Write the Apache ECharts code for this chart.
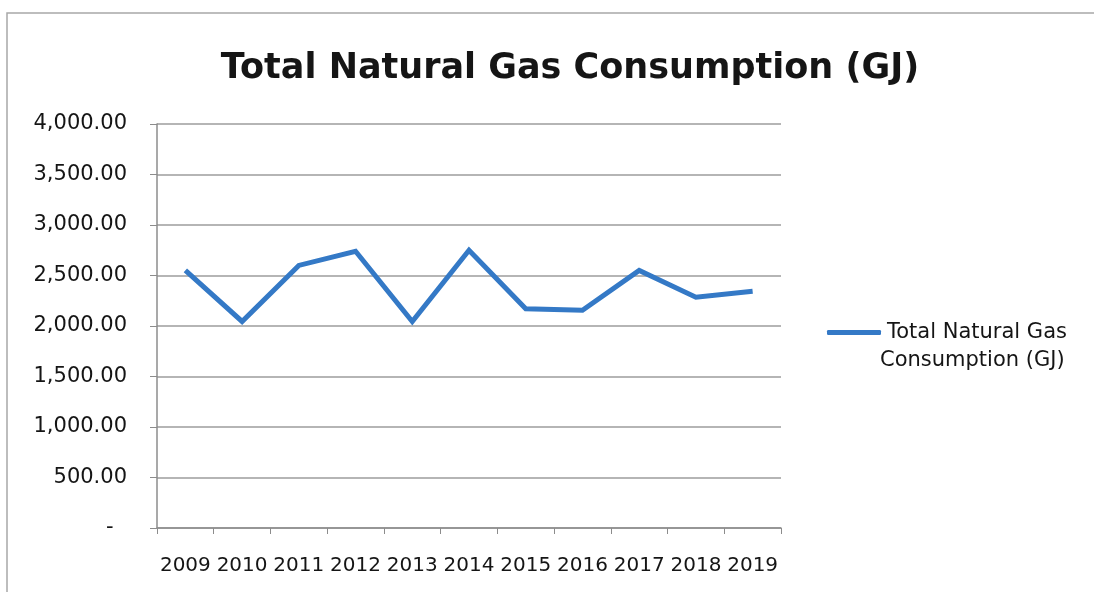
<!DOCTYPE html>
<html>
<head>
<meta charset="utf-8">
<script src="https://cdn.jsdelivr.net/npm/echarts@6/dist/echarts.min.js"></script>
<style>
  html, body { margin: 0; padding: 0; background: #fff; }
  #chart { width: 1094px; height: 592px; }
</style>
</head>
<body>
<div id="chart"></div>
<script>
// Annual totals, GJ
const years = ['2009', '2010', '2011', '2012', '2013', '2014', '2015', '2016', '2017', '2018', '2019'];
const gasGJ = [2550, 2045, 2600, 2740, 2045, 2750, 2170, 2155, 2550, 2285, 2345];
const seriesName = 'Total Natural Gas Consumption (GJ)';
const legendLines = ['Total Natural Gas', 'Consumption (GJ)'];
const yTicks = { min: 0, max: 4000, step: 500 };

const font = '"DejaVu Sans", "Open Sans", sans-serif';
const ink = '#151515';
const chart = echarts.init(document.getElementById('chart'));

// accounting-style number: zero shown as a dash padded off the right edge
const fmtGJ = v => v === 0
  ? '-  '
  : v.toLocaleString('en-US', { minimumFractionDigits: 2, maximumFractionDigits: 2 });

chart.setOption({
  backgroundColor: '#fff',
  animation: false,
  title: {
    text: seriesName,
    left: 565,
    textAlign: 'center',
    top: 46,
    textStyle: { fontFamily: font, fontSize: 35, fontWeight: 'bold', color: ink }
  },
  legend: {
    left: 822,
    top: 317,
    itemWidth: 54,
    itemHeight: 5,
    icon: 'roundRect',
    itemGap: 6,
    data: [seriesName],
    formatter: () => legendLines[0],
    textStyle: { fontFamily: font, fontSize: 21, color: ink, padding: [0, 0, 0, 1] }
  },
  graphic: [
    {
      type: 'polyline',
      silent: true,
      shape: { points: [[7, 600], [7, 13], [1100, 13]] },
      style: { stroke: '#a8a8a8', lineWidth: 1.5, fill: null }
    },
    {
      // second line of the legend entry
      type: 'text',
      silent: true,
      left: 880,
      top: 350,
      style: { text: legendLines[1], font: '21px ' + font, fill: ink }
    }
  ],
  grid: { left: 157, right: 313, top: 124, bottom: 64, containLabel: false },
  xAxis: {
    type: 'category',
    data: years,
    boundaryGap: true,
    axisLine: { lineStyle: { color: '#8c8c8c', width: 1.5 } },
    axisTick: { show: true, interval: 0, length: 6, lineStyle: { color: '#8c8c8c' } },
    axisLabel: { interval: 0, hideOverlap: false, fontFamily: font, fontSize: 20, color: ink, margin: 28 }
  },
  yAxis: {
    type: 'value',
    min: yTicks.min,
    max: yTicks.max,
    interval: yTicks.step,
    axisLine: { show: true, lineStyle: { color: '#8c8c8c', width: 1.5 } },
    axisTick: { show: true, length: 7, lineStyle: { color: '#8c8c8c' } },
    splitLine: { lineStyle: { color: '#9c9c9c', width: 1.5 } },
    axisLabel: { fontFamily: font, fontSize: 21, color: ink, margin: 30, formatter: fmtGJ }
  },
  series: [{
    name: seriesName,
    type: 'line',
    data: gasGJ,
    symbol: 'none',
    lineStyle: { color: '#3479c6', width: 5, join: 'miter' },
    itemStyle: { color: '#3479c6' }
  }]
});
</script>
</body>
</html>
